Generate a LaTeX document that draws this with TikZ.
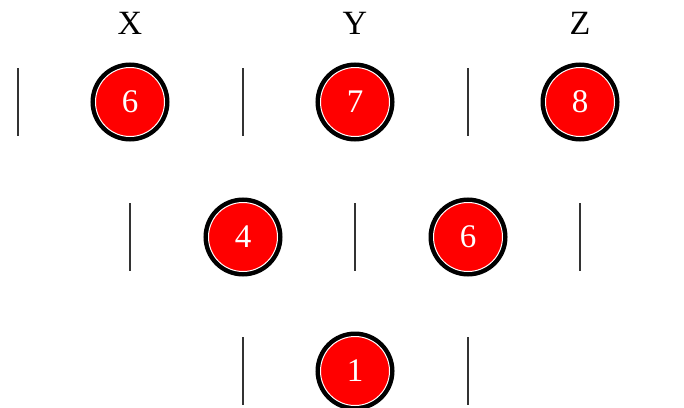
\documentclass[tikz,border=0pt]{standalone}
\usepackage{fontspec}
\setmainfont{Liberation Serif}
\usepackage{tikz}
\usetikzlibrary{positioning}

\begin{document}
\begin{tikzpicture}[
  x=0.5pt, y=-0.5pt,
  ball/.style  = {circle, minimum size=34.5pt, inner sep=0pt, fill=red,
                  draw=white, line width=0.5pt, text=white,
                  font=\fontsize{16.5}{18}\selectfont,
                  preaction={draw=black, line width=5pt}},
  bar/.style   = {line width=0.6pt, color=black!80},
  head/.style  = {font=\fontsize{17}{20}\selectfont}
]
\useasboundingbox (0,0) rectangle (684,407);

% ── Column heads ──────────────────────────────────────────────────────────────
\node[head] (hx) at (130,23) {X};
\node[head] (hy) at (355,23) {Y};
\node[head] (hz) at (580,23) {Z};

% ── Balls ─────────────────────────────────────────────────────────────────────
\node[ball] (a6) at (130,102) {6};
\node[ball] (a7) at (355,102) {7};
\node[ball] (a8) at (580,102) {8};
\node[ball] (b4) at (243,237) {4};
\node[ball] (b6) at (468,237) {6};
\node[ball] (c1) at (355,371) {1};

% ── Separators ────────────────────────────────────────────────────────────────
\foreach \x/\y in {18/102, 243/102, 468/102,
                   130/237, 355/237, 580/237,
                   243/371, 468/371}
  \draw[bar] (\x,\y-34) -- (\x,\y+34);

\end{tikzpicture}
\end{document}
